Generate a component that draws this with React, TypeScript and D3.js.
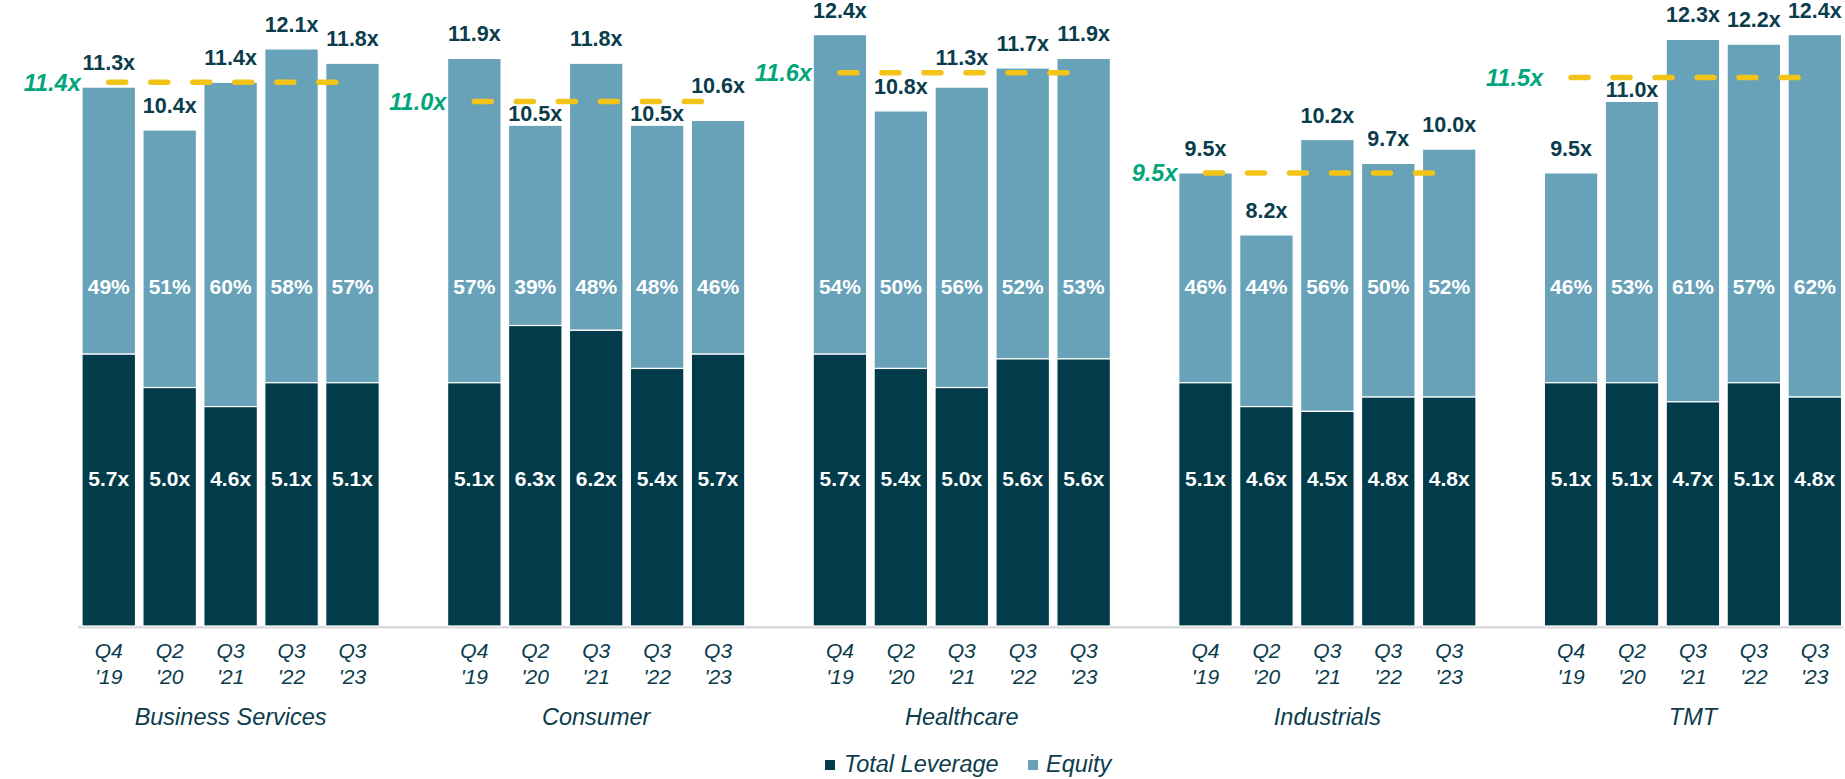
import React from "react";
import * as d3 from "d3";

const groups = ["Business Services", "Consumer", "Healthcare", "Industrials", "TMT"];
const periodsTop = ["Q4", "Q2", "Q3", "Q3", "Q3"];
const periodsBottom = ["'19", "'20", "'21", "'22", "'23"];

const totalBS = [11.3, 10.4, 11.4, 12.1, 11.8];
const totalConsumer = [11.9, 10.5, 11.8, 10.5, 10.6];
const totalHealthcare = [12.4, 10.8, 11.3, 11.7, 11.9];
const totalIndustrials = [9.5, 8.2, 10.2, 9.7, 10.0];
const totalTMT = [9.5, 11.0, 12.3, 12.2, 12.4];

const levBS = [5.7, 5.0, 4.6, 5.1, 5.1];
const levConsumer = [5.1, 6.3, 6.2, 5.4, 5.7];
const levHealthcare = [5.7, 5.4, 5.0, 5.6, 5.6];
const levIndustrials = [5.1, 4.6, 4.5, 4.8, 4.8];
const levTMT = [5.1, 5.1, 4.7, 5.1, 4.8];

const eqPctBS = [49, 51, 60, 58, 57];
const eqPctConsumer = [57, 39, 48, 48, 46];
const eqPctHealthcare = [54, 50, 56, 52, 53];
const eqPctIndustrials = [46, 44, 56, 50, 52];
const eqPctTMT = [46, 53, 61, 57, 62];

const averages = [11.4, 11.0, 11.6, 9.5, 11.5];

const totals = [totalBS, totalConsumer, totalHealthcare, totalIndustrials, totalTMT];
const levs = [levBS, levConsumer, levHealthcare, levIndustrials, levTMT];
const eqPcts = [eqPctBS, eqPctConsumer, eqPctHealthcare, eqPctIndustrials, eqPctTMT];

const W = 1845;
const H = 779;
const DARK = "#023B4A";
const LIGHT = "#68A2B9";
const TEXT = "#0B3C4C";
const GREEN = "#00A67A";
const GOLD = "#F2C417";
const FONT = "'Liberation Sans', Arial, Helvetica, sans-serif";

export default function App() {
  const slots: string[] = [];
  groups.forEach((g, gi) => {
    if (gi > 0) slots.push(`gap-${gi}`);
    periodsTop.forEach((_, pi) => slots.push(`${g}|${pi}`));
  });

  const x = d3
    .scaleBand<string>()
    .domain(slots)
    .range([78.3, 78.3 + 29 * 60.93])
    .paddingInner(0.122)
    .paddingOuter(0.061);
  const y = d3.scaleLinear().domain([0, 13]).range([626, 6]);
  const bw = x.bandwidth();

  const elems: React.ReactNode[] = [];

  groups.forEach((g, gi) => {
    const lineY = y(averages[gi]);
    const firstX = x(`${g}|0`)! + bw / 2;
    const lastX = x(`${g}|4`)! + bw / 2;

    totals[gi].forEach((tot, pi) => {
      const key = `${g}|${pi}`;
      const bx = x(key)!;
      const lev = levs[gi][pi];
      const top = y(tot);
      const mid = y(lev);
      const cx = bx + bw / 2;
      elems.push(
        <rect key={key + "eq"} x={bx} y={top} width={bw} height={mid - top} fill={LIGHT} stroke="#ffffff" strokeWidth={1.2} />
      );
      elems.push(
        <rect key={key + "lev"} x={bx} y={mid} width={bw} height={y(0) - mid} fill={DARK} stroke="#ffffff" strokeWidth={1.2} />
      );
      let b = top - 17;
      const lt = lineY - 3;
      const lb = lineY + 3;
      if (b + 1 > lt && b - 15 < lb) {
        const down = top - 4;
        if (down - 15 >= lb) b = down;
        else b = lineY - 8;
      }
      elems.push(
        <text key={key + "tl"} x={cx} y={b} textAnchor="middle" fontFamily={FONT} fontWeight="bold" fontSize={21.5} fill={TEXT}>
          {tot.toFixed(1)}x
        </text>
      );
      elems.push(
        <text key={key + "pct"} x={cx} y={y(7.13)} dy="0.36em" textAnchor="middle" fontFamily={FONT} fontWeight="bold" fontSize={21} fill="#ffffff">
          {eqPcts[gi][pi]}%
        </text>
      );
      elems.push(
        <text key={key + "lv"} x={cx} y={y(3.1)} dy="0.36em" textAnchor="middle" fontFamily={FONT} fontWeight="bold" fontSize={21} fill="#ffffff">
          {lev.toFixed(1)}x
        </text>
      );
      elems.push(
        <text key={key + "t1"} x={cx} y={658} textAnchor="middle" fontFamily={FONT} fontStyle="italic" fontSize={21} fill={TEXT}>
          {periodsTop[pi]}
        </text>
      );
      elems.push(
        <text key={key + "t2"} x={cx} y={684} textAnchor="middle" fontFamily={FONT} fontStyle="italic" fontSize={21} fill={TEXT}>
          {periodsBottom[pi]}
        </text>
      );
    });

    elems.push(
      <line key={g + "avg"} x1={firstX} x2={lastX} y1={lineY} y2={lineY} stroke={GOLD} strokeWidth={5.5} strokeDasharray="17 25" strokeLinecap="round" />
    );
    elems.push(
      <text key={g + "avgl"} x={firstX - 28} y={lineY} dy="0.36em" textAnchor="end" fontFamily={FONT} fontStyle="italic" fontWeight="bold" fontSize={23.5} fill={GREEN}>
        {averages[gi].toFixed(1)}x
      </text>
    );
    elems.push(
      <text key={g + "gl"} x={x(`${g}|2`)! + bw / 2} y={725} textAnchor="middle" fontFamily={FONT} fontStyle="italic" fontSize={23.5} fill={TEXT}>
        {g}
      </text>
    );
  });

  return (
    <div style={{ position: "absolute", left: 0, top: 0, width: W, height: H, background: "#fff" }}>
      <svg width={W} height={H} style={{ display: "block" }}>
        <line x1={78} x2={1843} y1={627.2} y2={627.2} stroke="#D9D9D9" strokeWidth={2.5} />
        {elems}
        <g>
          <rect x={825} y={760} width={10} height={10} fill={DARK} />
          <text x={844} y={772} fontFamily={FONT} fontStyle="italic" fontSize={23.5} fill={TEXT}>
            Total Leverage
          </text>
          <rect x={1028} y={760} width={10} height={10} fill={LIGHT} />
          <text x={1046} y={772} fontFamily={FONT} fontStyle="italic" fontSize={23.5} fill={TEXT}>
            Equity
          </text>
        </g>
      </svg>
    </div>
  );
}
